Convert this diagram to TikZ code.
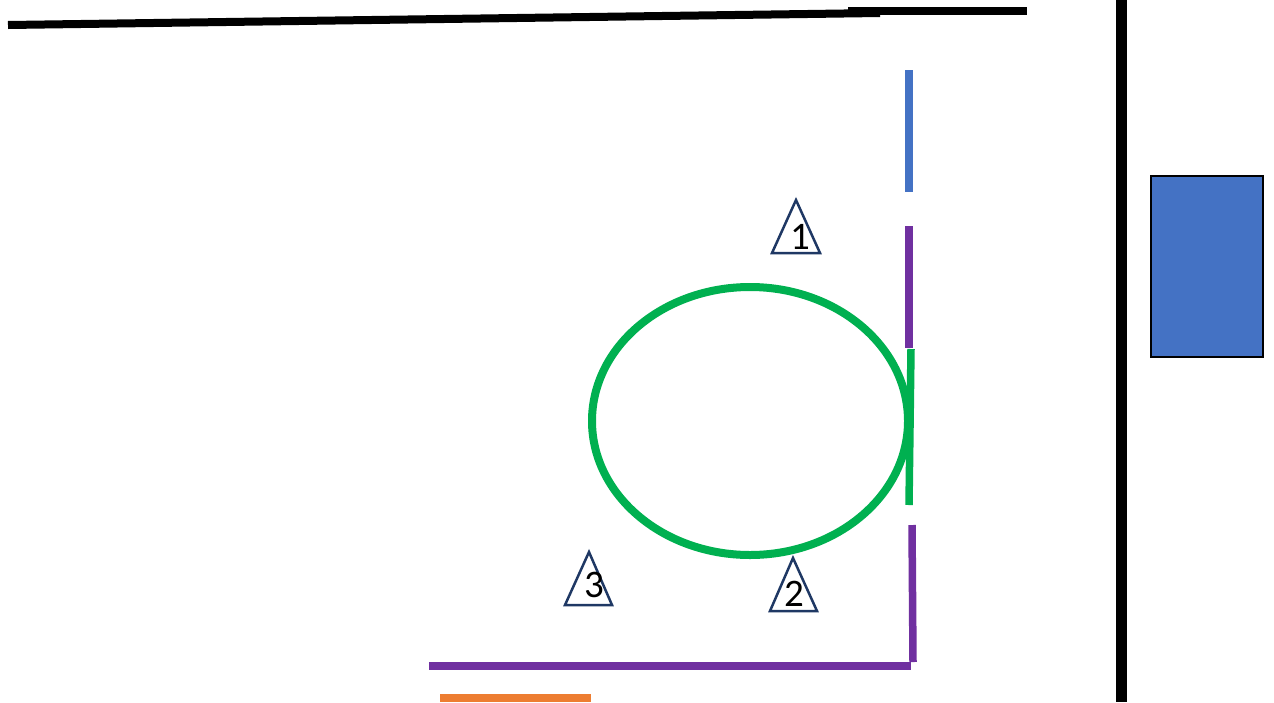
\documentclass[tikz,border=0pt]{standalone}
\usepackage{fontspec}
\setmainfont{Carlito}
\definecolor{msblue}{HTML}{4472C4}
\definecolor{mspurple}{HTML}{7030A0}
\definecolor{msgreen}{HTML}{00B050}
\definecolor{msorange}{HTML}{ED7D31}
\definecolor{msnavy}{HTML}{1F3864}
\begin{document}
\begin{tikzpicture}[x=1pt,y=-1pt,
  wall/.style={line width=8pt,black},
  seg/.style={line width=7.5pt},
  tri/.style={draw=msnavy,line width=2.5pt,line join=miter},
  num/.style={font=\fontsize{39}{39}\selectfont,inner sep=0pt}]
\useasboundingbox (0,0) rectangle (1274,702);
% walls
\draw[wall] (8,25) -- (880,13);
\draw[wall] (848,11) -- (1027,11);
\draw[line width=11pt,black] (1121,0) -- (1121,702);
% blue box
\node[draw=black,line width=2.2pt,fill=msblue,minimum width=112pt,minimum height=181pt,inner sep=0pt] (box) at (1207,266.5) {};
% vertical segments
\draw[seg,msblue] (909,70) -- (909,192);
\draw[seg,mspurple] (909,226) -- (909,348);
\draw[seg,msgreen] (911,349) -- (909,505);
\draw[seg,mspurple] (912,525) -- (913,662);
\draw[seg,mspurple] (429,666) -- (911,666);
\draw[seg,msorange] (440,698) -- (591,698);
% ellipse
\draw[line width=8pt,msgreen] (750,421) ellipse [x radius=158, y radius=134];
% triangles
\draw[tri] (796,200) -- (820,253) -- (772,253) -- cycle;
\node[num] (t1) at (800,237) {1};
\draw[tri] (589,552) -- (612,605) -- (565,605) -- cycle;
\node[num] (t3) at (594,585) {3};
\draw[tri] (793,558) -- (817,611) -- (770,611) -- cycle;
\node[num] (t2) at (794,594) {2};
\end{tikzpicture}
\end{document}
